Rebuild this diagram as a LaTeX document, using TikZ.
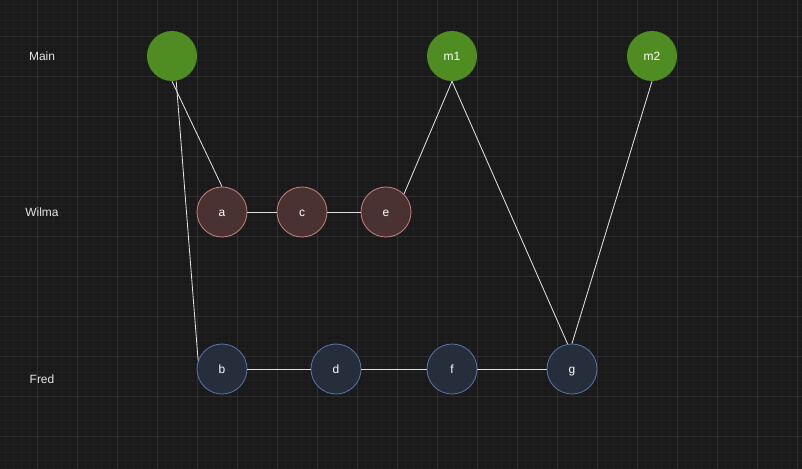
\documentclass[tikz,border=0pt]{standalone}
\usepackage{fontspec}
\setmainfont{Liberation Sans}
\definecolor{bgdark}{HTML}{1A1A1A}
\definecolor{gridmajor}{HTML}{2E2E2E}
\definecolor{gridminor}{HTML}{202020}
\definecolor{maingreen}{HTML}{4F8D22}
\definecolor{wilmafill}{HTML}{4A3232}
\definecolor{wilmaline}{HTML}{C27F7F}
\definecolor{fredfill}{HTML}{262D3B}
\definecolor{fredline}{HTML}{5873A6}
\begin{document}
\begin{tikzpicture}[
  x=0.025cm,y=-0.025cm,
  commit/.style={circle,minimum size=1.25cm,inner sep=0pt,text height=1.6ex,text depth=0.3ex,
    font=\fontsize{8.5}{10}\selectfont,text=white},
  mainc/.style={commit,fill=maingreen},
  wilmac/.style={commit,fill=wilmafill,draw=wilmaline,line width=0.6pt},
  fredc/.style={commit,fill=fredfill,draw=fredline,line width=0.6pt},
  branch/.style={font=\fontsize{8.5}{10}\selectfont,text=white!90!black},
  link/.style={draw=white!88!black,line width=0.6pt},
]
\fill[bgdark] (0,0) rectangle (802,468);
\useasboundingbox (0,0) rectangle (802,468);
\foreach \x in {5,13,...,802}{\draw[gridminor,line width=0.4pt] (\x,0)--(\x,468);}
\foreach \y in {4,12,...,468}{\draw[gridminor,line width=0.4pt] (0,\y)--(802,\y);}
\foreach \x in {37,77,...,802}{\draw[gridmajor,line width=0.5pt] (\x,0)--(\x,468);}
\foreach \y in {36,76,...,468}{\draw[gridmajor,line width=0.5pt] (0,\y)--(802,\y);}
\node[branch] (lmain) at (42,56) {Main};
\node[branch] (lwilma) at (42,212) {Wilma};
\node[branch] (lfred) at (42,379) {Fred};
\node[mainc] (m0) at (172,56) {};
\node[mainc] (m1) at (452,56) {m1};
\node[mainc] (m2) at (652,56) {m2};
\node[wilmac] (a) at (222,212) {a};
\node[wilmac] (c) at (302,212) {c};
\node[wilmac] (e) at (386,212) {e};
\node[fredc] (b) at (222,369) {b};
\node[fredc] (d) at (336,369) {d};
\node[fredc] (f) at (452,369) {f};
\node[fredc] (g) at (572,369) {g};
\draw[link] (m0.south) -- (a.north);
\draw[link] ([xshift=3pt]m0.south) -- (b.160);
\draw[link] (a) -- (c);
\draw[link] (c) -- (e);
\draw[link] (m1.south) -- (e.45);
\draw[link] (m1.south) -- (g.100);
\draw[link] (m2.south) -- (g.north);
\draw[link] (b) -- (d);
\draw[link] (d) -- (f);
\draw[link] (f) -- (g);
\end{tikzpicture}
\end{document}
